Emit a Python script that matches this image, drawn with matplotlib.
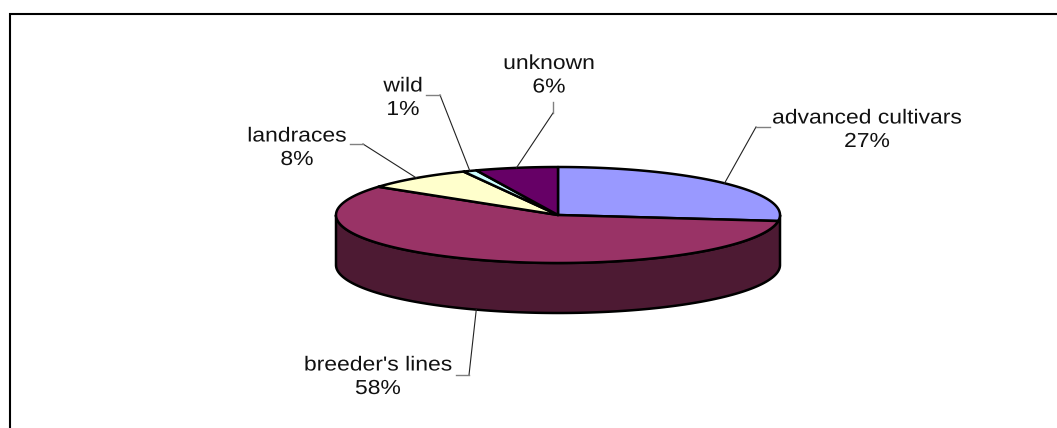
import numpy as np
from matplotlib import pyplot as plt
from matplotlib.patches import Polygon
from matplotlib.patheffects import AbstractPathEffect
from matplotlib.transforms import Affine2D

categories = ["advanced cultivars", "breeder's lines", "landraces", "wild", "unknown"]
shares = [27, 58, 8, 1, 6]
top_colors = ["#9999FF", "#993366", "#FFFFCC", "#CCFFFF", "#660066"]
side_color = "#4D1A33"

# Pie geometry, in pixels of the figure
CX, CY = 558, 215
RX, RY = 222, 48
DEPTH = 50

# Centre and last baseline of each label, and the elbow of its leader line
label_xy = [(867, 147), (378, 394), (297, 165), (403, 115), (549, 92.5)]
elbows = [(756, 127), (469, 375), (363, 144), (440, 95), (553, 113)]
stub_ends = [(770, 127), (456, 375), (350, 144), (426, 95), (553, 102)]


class WideText(AbstractPathEffect):
    # Stretches a line of text sideways around its own centre
    def __init__(self, factor):
        super().__init__()
        self.factor = factor

    def draw_path(self, renderer, gc, tpath, affine, rgbFace=None):
        mid = tpath.get_extents().x0 + tpath.get_extents().width / 2
        wide = Affine2D().translate(-mid, 0).scale(self.factor, 1).translate(mid, 0)
        renderer.draw_path(gc, tpath, wide + affine, rgbFace)


def rim(start, end, drop=0):
    # Points along the ellipse, angles are clockwise from 12 o'clock in percent
    t = np.radians(np.linspace(start, end, 200) * 3.6)
    return np.column_stack([CX + RX * np.sin(t), CY - RY * np.cos(t) + drop])


fig = plt.figure(figsize=(10.57, 4.28), dpi=100)
ax = fig.add_axes([0, 0, 1, 1])
ax.set_xlim(0, 1057)
ax.set_ylim(428, 0)
ax.axis("off")

# Frame: left and top only, both run off the figure
ax.plot([10, 10, 1057], [428, 14, 14], color="black", lw=1.5, solid_joinstyle="miter")

# Wall of the pie: the front half of the rim pushed down
front = np.vstack([rim(25, 75), rim(75, 25, DEPTH)])
ax.add_patch(Polygon(front, closed=True, facecolor=side_color, edgecolor="black", lw=1.8, joinstyle="round"))

edges = np.concatenate([[0], np.cumsum(shares)])
for i, color in enumerate(top_colors):
    pts = np.vstack([[CX, CY], rim(edges[i], edges[i + 1])])
    ax.add_patch(Polygon(pts, closed=True, facecolor=color, edgecolor="black", lw=1.8, joinstyle="round"))

# Leader lines run from the middle of each slice's rim to the label
for i, name in enumerate(categories):
    mid = (edges[i] + edges[i + 1]) / 2
    drop = DEPTH if name == "breeder's lines" else 0
    px, py = rim(mid, mid, drop)[0]
    ex, ey = elbows[i]
    sx, sy = stub_ends[i]
    ax.plot([px, ex], [py, ey], color="#222222", lw=0.8)
    ax.plot([ex, sx], [ey, sy], color="#808080", lw=1.0)
    lx, ly = label_xy[i]
    ax.text(lx, ly, f"{name}\n{shares[i]}%", ha="center", va="baseline", family="Liberation Sans",
        fontsize=14.6, color="#111111", linespacing=1.3, path_effects=[WideText(1.13)])

fig.savefig("out.png", dpi=100, facecolor="white")
